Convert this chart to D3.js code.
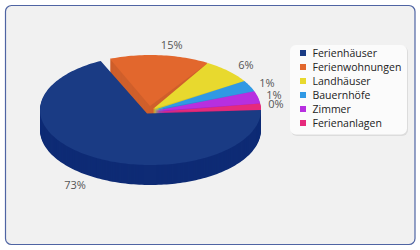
<!DOCTYPE html>
<html>
<head>
<meta charset="utf-8">
<script src="https://cdn.jsdelivr.net/npm/d3@7"></script>
<style>
  html, body { margin: 0; padding: 0; background: #fff; }
  svg { display: block; }
  text { font-family: "Open Sans", sans-serif; }
</style>
</head>
<body>
<div id="chart"></div>
<script>
const categories = ['Ferienhäuser', 'Ferienwohnungen', 'Landhäuser', 'Bauernhöfe', 'Zimmer', 'Ferienanlagen'];
const percentLabels = ['73%', '15%', '6%', '1%', '1%', '0%'];
// share of the drawn circle (small slices are drawn wider than their labels)
const sliceShares = [67.5, 16.1, 7.5, 3.3, 3.6, 1.9];
const topColors = ['#1a3b84', '#e2672d', '#e8d92e', '#3099e4', '#b72fe0', '#e62a7c'];
const wallColors = ['#0e2b75', '#cf5f2b', '#d6c82a', '#2a8ad4', '#a229c8', '#cf2670'];

const width = 420, height = 250;
const cx = 150.5, cy = 110, rx = 110.5, ry = 55, depth = 20;

const svg = d3.select('#chart').append('svg')
    .attr('width', width)
    .attr('height', height);

// Frame
svg.append('rect')
    .attr('x', 5.5).attr('y', 5.5)
    .attr('width', 409.5).attr('height', 239)
    .attr('rx', 6).attr('ry', 6)
    .attr('fill', '#f1f1f1')
    .attr('stroke', '#4f64a3')
    .attr('stroke-width', 1.2);

const slices = d3.pie().sort(null)
    .startAngle(Math.PI / 2)
    .endAngle(Math.PI / 2 + 2 * Math.PI)(sliceShares);

// The tip of each wedge does not sit on the ellipse centre (perspective + explode)
const tips = [[147, 113.5], [150, 106], [153, 109], [154, 110], [154.5, 111], [155, 112]];
// the orange slice starts a little late, which leaves the notch next to the big slice
const startTrim = [0, 0.09, 0, 0, 0, 0];

const line = d3.line();

function wedge(d, i) {
    const a0 = d.startAngle + startTrim[i];
    const steps = Math.ceil((d.endAngle - a0) * 40);
    const rim = d3.range(steps + 1).map(k => {
        const a = a0 + (d.endAngle - a0) * k / steps;
        return [cx + rx * Math.sin(a), cy - ry * Math.cos(a)];
    });
    return line([tips[i], ...rim]) + 'Z';
}

// Back to front: the big slice goes last
const pieG = svg.append('g');
[1, 2, 3, 4, 5, 0].forEach(i => {
    const g = pieG.append('g');
    const path = wedge(slices[i], i);
    g.selectAll('path.wall')
        .data(d3.range(depth, 0, -1))
        .enter()
        .append('path')
        .attr('class', 'wall')
        .attr('d', path)
        .attr('transform', k => `translate(0,${k})`)
        .attr('fill', wallColors[i]);
    g.append('path')
        .attr('d', path)
        .attr('fill', topColors[i]);
});

// Percent labels
const labelDx = [-6, 16, 2, -3, -5.5, -7];
const labelDy = [-1, 1, 2, 2, 0, -2];
svg.selectAll('text.pct')
    .data(slices)
    .enter()
    .append('text')
    .attr('class', 'pct')
    .attr('text-anchor', 'middle')
    .attr('font-size', 11)
    .attr('fill', '#555')
    .attr('x', (d, i) => cx + 1.2 * rx * Math.sin((d.startAngle + d.endAngle) / 2) + labelDx[i])
    .attr('y', (d, i) => {
        const a = (d.startAngle + d.endAngle) / 2;
        const y = cy - 1.2 * ry * Math.cos(a);
        return y + (Math.cos(a) < 0 ? depth : 0) + labelDy[i] + 4;
    })
    .text((d, i) => percentLabels[i]);

// Legend
svg.append('rect')
    .attr('x', 291).attr('y', 46)
    .attr('width', 117).attr('height', 90)
    .attr('rx', 6)
    .attr('fill', '#dcdcdc');
svg.append('rect')
    .attr('x', 290).attr('y', 45)
    .attr('width', 117).attr('height', 89.5)
    .attr('rx', 6)
    .attr('fill', '#fbfbfb');

const rowY = d3.scalePoint().domain(categories).range([53, 123]);
const legendRows = svg.selectAll('g.row')
    .data(categories)
    .enter()
    .append('g')
    .attr('class', 'row')
    .attr('transform', d => `translate(300,${rowY(d)})`);

legendRows.append('rect')
    .attr('x', 0).attr('y', -3)
    .attr('width', 6).attr('height', 6)
    .attr('fill', (d, i) => topColors[i]);

legendRows.append('text')
    .attr('x', 12.5)
    .attr('y', 4)
    .attr('font-size', 10.5)
    .attr('fill', '#222')
    .text(d => d);
</script>
</body>
</html>
